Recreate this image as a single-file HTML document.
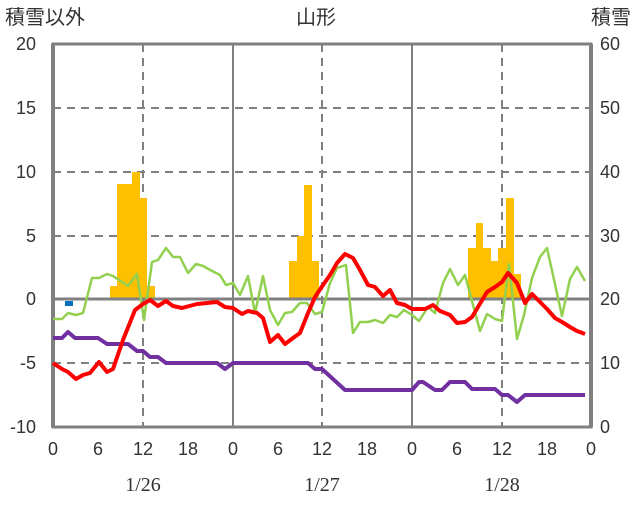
<!DOCTYPE html>
<html><head><meta charset="utf-8"><style>
body{margin:0;background:#fff;}
svg text{font-family:"Liberation Sans","Noto Sans CJK JP",sans-serif;font-size:18px;fill:#333;}
svg text.t{font-size:20px;}
svg text.d{font-family:"Liberation Serif","Noto Serif CJK SC",serif;font-size:20px;}
</style></head><body>
<svg width="636" height="501" xmlns="http://www.w3.org/2000/svg">
<rect width="636" height="501" fill="#fff"/>
<g stroke="#808080" stroke-width="2" stroke-dasharray="8,6">
<line x1="53" y1="108" x2="591" y2="108"/>
<line x1="53" y1="172" x2="591" y2="172"/>
<line x1="53" y1="236" x2="591" y2="236"/>
<line x1="53" y1="363" x2="591" y2="363"/>
<line x1="143" y1="44" x2="143" y2="427"/>
<line x1="322" y1="44" x2="322" y2="427"/>
<line x1="502" y1="44" x2="502" y2="427"/>
</g>
<g stroke="#808080" stroke-width="2">
<line x1="233" y1="44" x2="233" y2="427"/>
<line x1="412" y1="44" x2="412" y2="427"/>
</g>
<g fill="#FFC000">
<rect x="110" y="286" width="8" height="13"/>
<rect x="117" y="184" width="15" height="115"/>
<rect x="132" y="172" width="8" height="127"/>
<rect x="139" y="198" width="8" height="101"/>
<rect x="147" y="286" width="8" height="13"/>
<rect x="289" y="261" width="8" height="38"/>
<rect x="297" y="236" width="8" height="63"/>
<rect x="304" y="185" width="8" height="114"/>
<rect x="312" y="261" width="7" height="38"/>
<rect x="468" y="248" width="8" height="51"/>
<rect x="476" y="223" width="7" height="76"/>
<rect x="482" y="248" width="9" height="51"/>
<rect x="491" y="261" width="8" height="38"/>
<rect x="498" y="248" width="8" height="51"/>
<rect x="506" y="198" width="8" height="101"/>
<rect x="513" y="274" width="8" height="25"/>
</g>
<g stroke="#808080" stroke-width="3" fill="none">
<rect x="53" y="44" width="538" height="383"/>
<line x1="53" y1="299" x2="591" y2="299"/>
</g>
<line x1="53" y1="44" x2="53" y2="427" stroke="#808080" stroke-width="4"/>
<line x1="591" y1="44" x2="591" y2="427" stroke="#808080" stroke-width="4"/>
<rect x="65" y="301" width="8" height="5" fill="#0070C0"/>
<g fill="none" stroke-linejoin="round">
<polyline stroke="#92D050" stroke-width="2.5" points="53,319 62,319 68,313 76,315 83,313 92,278 99,278 107,274 113,276 128,286 137,274 144,320 152,262 158,260 166,248 173,257 180,257 188,273 196,264 203,266 212,271 220,275 226,285 233,283 240,295 248,276 255,313 263,276 270,310 278,325 285,313 292,312 300,303 307,303 315,314 322,312 330,283 337,268 346,265 353,333 360,322 368,322 375,320 383,323 390,315 397,317 404,310 412,315 419,321 428,307 435,313 443,283 450,269 458,285 465,275 480,331 487,314 495,319 502,321 509,264 517,339 524,315 532,278 540,257 547,248 562,316 570,279 577,267 585,281"/>
<polyline stroke="#7030A0" stroke-width="4" points="53,338 62,338 68,332 75,338 98,338 107,344 128,344 137,351 143,351 150,357 158,357 166,363 217,363 225,369 233,363 308,363 315,369 322,369 345,390 412,390 419,382 423,382 435,390 442,390 450,382 465,382 472,389 495,389 502,395 508,395 517,402 525,395 585,395"/>
<polyline stroke="#FF0000" stroke-width="4" points="53,363 62,369 68,372 76,379 83,375 90,373 99,362 107,372 113,369 123,340 135,310 143,304 150,300 158,306 166,301 173,306 182,308 197,304 217,302 225,307 233,308 242,314 248,311 257,313 263,318 270,342 278,335 285,344 293,338 300,333 308,313 315,297 323,285 330,275 337,263 345,254 353,258 360,270 368,285 375,287 383,296 390,290 397,303 405,305 412,309 425,309 433,305 440,311 450,315 457,323 465,322 472,317 478,307 487,292 495,287 502,282 508,273 517,283 525,303 532,294 538,300 547,309 555,318 562,322 570,327 577,331 585,334"/>
</g>
<text class="t" x="5" y="24">積雪以外</text>
<text class="t" x="316" y="24" text-anchor="middle">山形</text>
<text class="t" x="631" y="24" text-anchor="end">積雪</text>
<g text-anchor="end">
<text x="36" y="50">20</text><text x="36" y="114">15</text><text x="36" y="178">10</text>
<text x="36" y="242">5</text><text x="36" y="305">0</text><text x="36" y="369">-5</text>
<text x="36" y="433">-10</text>
</g>
<g>
<text x="600" y="50">60</text><text x="600" y="114">50</text><text x="600" y="178">40</text>
<text x="600" y="242">30</text><text x="600" y="305">20</text><text x="600" y="369">10</text>
<text x="600" y="433">0</text>
</g>
<g text-anchor="middle">
<text x="53" y="455">0</text><text x="98" y="455">6</text><text x="143" y="455">12</text><text x="188" y="455">18</text>
<text x="233" y="455">0</text><text x="278" y="455">6</text><text x="322" y="455">12</text><text x="367" y="455">18</text>
<text x="412" y="455">0</text><text x="457" y="455">6</text><text x="502" y="455">12</text><text x="547" y="455">18</text>
<text x="591" y="455">0</text>
<text class="d" x="143" y="491">1/26</text><text class="d" x="322" y="491">1/27</text><text class="d" x="502" y="491">1/28</text>
</g>
</svg>
</body></html>
